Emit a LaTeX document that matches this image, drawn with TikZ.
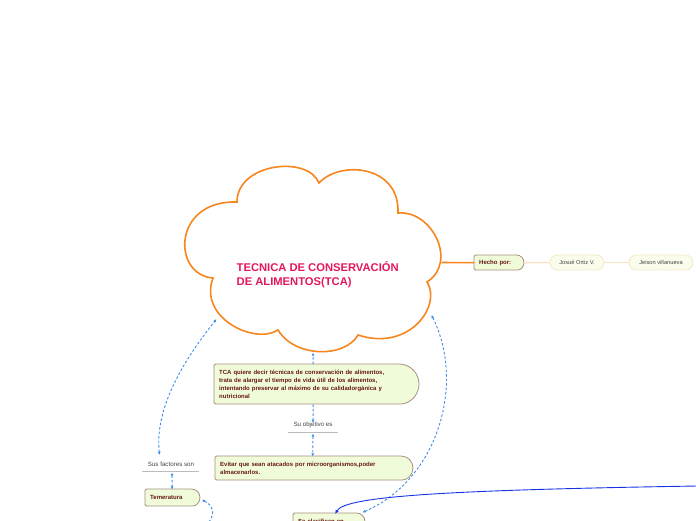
\documentclass[tikz,border=0pt]{standalone}
\usepackage{fontspec}
\setmainfont{Liberation Sans}
\usetikzlibrary{arrows.meta}
\definecolor{cloudor}{HTML}{F7861E}
\definecolor{titlered}{HTML}{E3175C}
\definecolor{boxfill}{HTML}{EFFBD9}
\definecolor{boxbd}{HTML}{A98E80}
\definecolor{txtred}{HTML}{6A1818}
\definecolor{palefill}{HTML}{FBFDEC}
\definecolor{palebd}{HTML}{F2E8C6}
\definecolor{peach}{HTML}{FBE2C6}
\definecolor{dashblue}{HTML}{3C8DE8}
\definecolor{solidblue}{HTML}{1634E6}
\definecolor{graytxt}{HTML}{444444}
\definecolor{grayline}{HTML}{BBBBBB}
\begin{document}
\begin{tikzpicture}[x=1pt,y=-1pt,
  greenbox/.style={draw=boxbd,fill=boxfill,line width=0.8pt},
  boxtext/.style={anchor=north west,inner ysep=0pt,inner xsep=5pt,align=left,
    text=txtred,font=\fontsize{6}{8.2}\selectfont\bfseries},
  palebox/.style={draw=palebd,fill=palefill,line width=0.8pt,rounded corners=7.5pt,
    inner sep=0pt,minimum height=15pt,text=graytxt,font=\fontsize{5.7}{6}\selectfont},
  labeltext/.style={inner sep=1pt,text=graytxt,font=\fontsize{6.2}{7}\selectfont},
  rel/.style={draw=dashblue,line width=0.9pt,dash pattern=on 2.5pt off 2pt},
  tip/.style={-{Latex[length=3.2pt,width=3pt]}},
  tips/.style={{Latex[length=3.2pt,width=3pt]}-{Latex[length=3.2pt,width=3pt]}}
]
\useasboundingbox (0,0) rectangle (696,520);
\clip (0,0) rectangle (696,520);

% cloud
\draw[cloudor,line width=1.6pt,fill=white]
  (213,278) .. controls (172,275) and (172,200) .. (237,202)
  .. controls (237,163) and (308,155) .. (319,183)
  .. controls (340,160) and (400,165) .. (398,213)
  .. controls (432,210) and (458,262) .. (427,282)
  .. controls (442,305) and (410,352) .. (358,335)
  .. controls (345,358) and (295,358) .. (278,330)
  .. controls (255,345) and (198,318) .. (213,278) -- cycle;
\node[anchor=north west,inner sep=0pt,align=left,text=titlered,
  font=\fontsize{11.2}{14}\selectfont\bfseries] (cloud) at (236.5,261.5)
  {TECNICA DE CONSERVACIÓN\\DE ALIMENTOS(TCA)};
\coordinate (cR) at (441.5,262.5);
\coordinate (cB) at (313,352.5);
\coordinate (cBL) at (216.5,319);
\coordinate (cBR) at (431.5,315);

% Hecho por
\filldraw[greenbox] (516.5,255) [rounded corners=1.5pt] -- (474,255) -- (474,270) -- (516.5,270)
  [sharp corners] arc[start angle=-90,end angle=90,radius=7.5pt] -- cycle;
\node[boxtext,minimum height=15pt,minimum width=50pt,text width=40pt] (hecho) at (474,255) {Hecho por:};
\node[palebox,minimum width=54pt] (josue) at (577,262.5) {Josué Ortiz V.};
\node[palebox,minimum width=64pt] (jeison) at (661,262.5) {Jeison villanueva};
\draw[cloudor,line width=1.6pt] (cR) -- (hecho.west);
\draw[peach,line width=1.4pt] (hecho.east) -- (josue.west);
\draw[peach,line width=1.4pt] (josue.east) -- (jeison.west);

% TCA box
\filldraw[greenbox] (399,364) [rounded corners=1.5pt] -- (214,364) -- (214,404) -- (399,404)
  [sharp corners] arc[start angle=-90,end angle=90,radius=20pt] -- cycle;
\node[boxtext,minimum height=40pt,minimum width=205pt,text width=195pt] (tca) at (214,364)
  {TCA quiere decir técnicas de conservación de alimentos,\\trata de alargar el tiempo de vida útil de los alimentos,\\intentando preservar al máximo de su calidadorgánica y\\nutricional};

% Su objetivo es
\node[labeltext] (obj) at (313,425) {Su objetivo es};
\draw[grayline,line width=0.8pt] (288,432) -- (338,432);

% Evitar box
\filldraw[greenbox] (401,456) [rounded corners=1.5pt] -- (215,456) -- (215,480) -- (401,480)
  [sharp corners] arc[start angle=-90,end angle=90,radius=12pt] -- cycle;
\node[boxtext,minimum height=24pt,minimum width=198pt,text width=188pt] (evitar) at (215,456)
  {Evitar que sean atacados por microorganismos,poder\\almacenarlos.};

% Sus factores son
\node[labeltext] (fac) at (171,464) {Sus factores son};
\draw[grayline,line width=0.8pt] (142,471) -- (199,471);

% Temeratura
\filldraw[greenbox] (191.5,489) [rounded corners=1.5pt] -- (145,489) -- (145,506) -- (191.5,506)
  [sharp corners] arc[start angle=-90,end angle=90,radius=8.5pt] -- cycle;
\node[boxtext,minimum height=17pt,minimum width=55pt,text width=45pt] (temp) at (145,489) {Temeratura};

% Se clasifican en
\filldraw[greenbox] (356.5,513) [rounded corners=1.5pt] -- (293,513) -- (293,530) -- (356.5,530)
  [sharp corners] arc[start angle=-90,end angle=90,radius=8.5pt] -- cycle;
\node[boxtext,minimum height=17pt,minimum width=72pt,text width=62pt] (clas) at (293,513) {Se clasifican en};
\draw[pink!60,line width=0.8pt] ([xshift=1pt]clas.east) -- ++(4,0);

% relations
\draw[rel,tip] ([xshift=-3.5pt]tca.north) -- (cB);
\draw[rel,tip] ([xshift=-3.5pt]tca.south) -- ([yshift=-2pt]obj.north);
\draw[rel,tips] (313,433.5) -- ([xshift=-1.5pt,yshift=-0.5pt]evitar.north);
\draw[rel,tips] (159.5,455) .. controls (155,410) and (180,365) .. (cBL);
\draw[rel,tips] (172,472.5) -- ([xshift=-0.5pt,yshift=-0.5pt]temp.north);
\draw[rel,tip] (209,522) .. controls (216,512) and (212,505) .. ([xshift=1.5pt,yshift=-2pt]temp.east);
\draw[rel,tips] ([xshift=-3pt,yshift=0.5pt]clas.north east) .. controls (437,480) and (466,385) .. (cBR);
\coordinate (farR) at (697,486);
\draw[solidblue,line width=0.9pt,-{Latex[length=4pt,width=3.5pt]}] (farR) .. controls (450,490) and (345,496) .. ([xshift=6pt,yshift=-1pt]clas.north);
\end{tikzpicture}
\end{document}
